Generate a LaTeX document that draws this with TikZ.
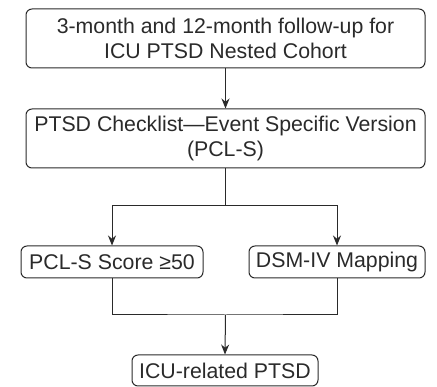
\documentclass[tikz,border=0pt]{standalone}
\usepackage{fontspec}
\setmainfont{Liberation Sans}
\usetikzlibrary{arrows.meta}
\definecolor{ink}{HTML}{2A2A2A}
\begin{document}
\begin{tikzpicture}[x=1pt,y=-1pt,
  box/.style={draw=ink,line width=1pt,rounded corners=6pt,text=ink,align=center,inner sep=0pt,font=\fontsize{21.3}{25.5}\selectfont},
  conn/.style={draw=ink,line width=1pt},
  arr/.style={conn,-{Stealth[length=10pt,width=8pt]}}]
\useasboundingbox (0,0) rectangle (437,387);
\node[box,minimum width=399pt,minimum height=59pt] (b1) at (225.5,38.5) {3-month and 12-month follow-up for\\ICU PTSD Nested Cohort};
\node[box,minimum width=399pt,minimum height=59pt] (b2) at (225.5,138.5) {PTSD Checklist—Event Specific Version\\(PCL-S)};
\node[box,minimum width=182pt,minimum height=32pt] (b3) at (112,262) {PCL-S Score ≥50};
\node[box,minimum width=176pt,minimum height=32pt] (b4) at (337,262) {DSM-IV Mapping};
\node[box,minimum width=186pt,minimum height=31pt] (b5) at (225,370.5) {ICU-related PTSD};
\coordinate (s1) at (b2.south |- 0,206);
\coordinate (m1) at (b2.south |- 0,315);
\draw[arr] (b1.south) -- (b2.north);
\draw[conn] (b2.south) -- (s1);
\draw[arr] (s1) -| (b3.north);
\draw[arr] (s1) -| (b4.north);
\draw[conn] (b3.south) |- (m1) -| (b4.south);
\draw[arr] (m1) -- (b5.north);
\end{tikzpicture}
\end{document}
